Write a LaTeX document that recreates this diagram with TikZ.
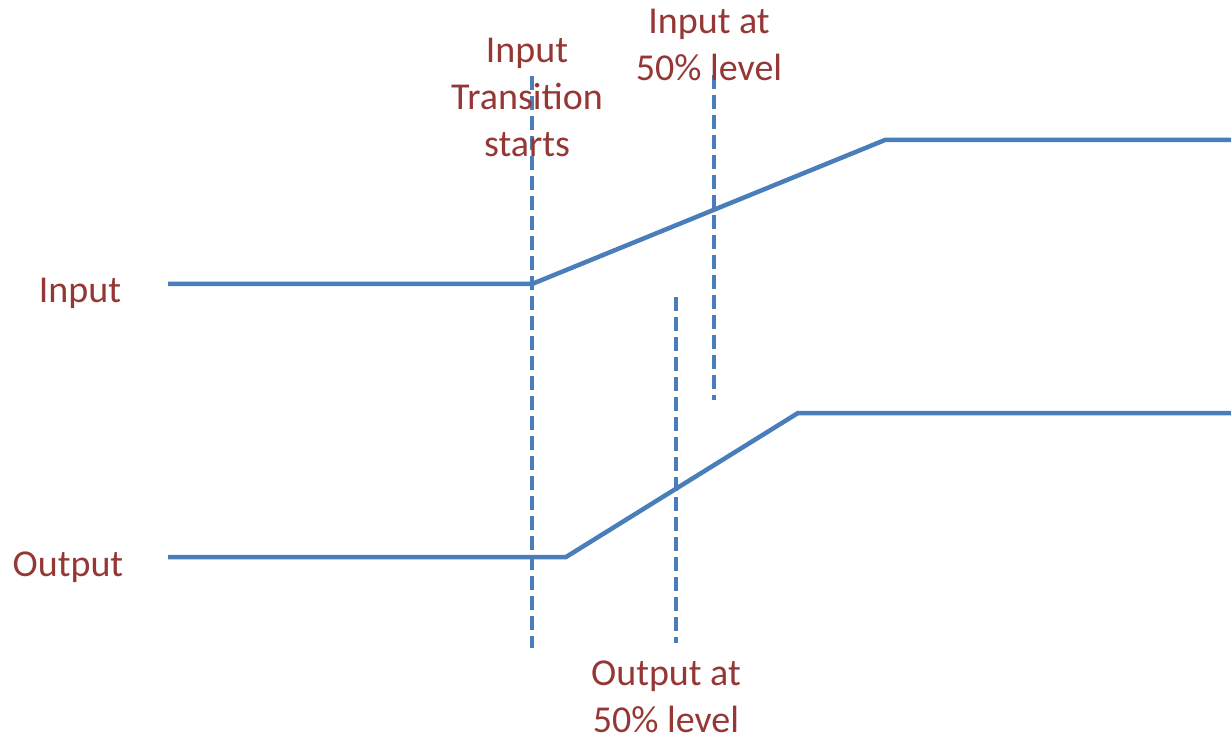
\documentclass[tikz,border=0pt]{standalone}
\usepackage{fontspec}
\setmainfont{Carlito}
\usepackage{tikz}
\usetikzlibrary{positioning}

\definecolor{wave}{HTML}{4A7EBB}
\definecolor{labelred}{HTML}{953735}

\begin{document}
\begin{tikzpicture}[
  x=1pt, y=-1pt,
  signal/.style={draw=wave, line width=4.5pt, line join=miter},
  marker/.style={draw=wave, line width=4.5pt, dash pattern=on 14pt off 6pt},
  lbl/.style={text=labelred, font=\fontsize{38}{47}\selectfont, align=center, inner sep=0pt},
]
  \useasboundingbox (0,0) rectangle (1231,743);

  % input waveform
  \coordinate (inA) at (168,284);
  \coordinate (inB) at (532,284);
  \coordinate (inC) at (885,140);
  \coordinate (inD) at (1231,140);
  \draw[signal] (inA) -- (inB) -- (inC) -- (inD);

  % output waveform
  \coordinate (outA) at (168,557);
  \coordinate (outB) at (566,557);
  \coordinate (outC) at (798,413);
  \coordinate (outD) at (1231,413);
  \draw[signal] (outA) -- (outB) -- (outC) -- (outD);

  % timing markers
  \coordinate (startTop) at (532,76);
  \coordinate (startBot) at (532,648);
  \coordinate (inHalfTop) at (714,75);
  \coordinate (inHalfBot) at (714,400);
  \coordinate (outHalfTop) at (676,297);
  \coordinate (outHalfBot) at (676,643);
  \draw[marker] (startTop) -- (startBot);
  \draw[marker] (inHalfTop) -- (inHalfBot);
  \draw[marker] (outHalfTop) -- (outHalfBot);

  % labels (base = last line)
  \node[lbl, anchor=base] (inName) at (80,302) {Input};
  \node[lbl, anchor=base] (outName) at (68,576) {Output};
  \node[lbl, anchor=base] (startLbl) at (527,157) {Input\\Transition\\starts};
  \node[lbl, anchor=base] (inHalfLbl) at (709,81) {Input at\\50\% level};
  \node[lbl, anchor=base] (outHalfLbl) at (666,732) {Output at\\50\% level};
\end{tikzpicture}
\end{document}
